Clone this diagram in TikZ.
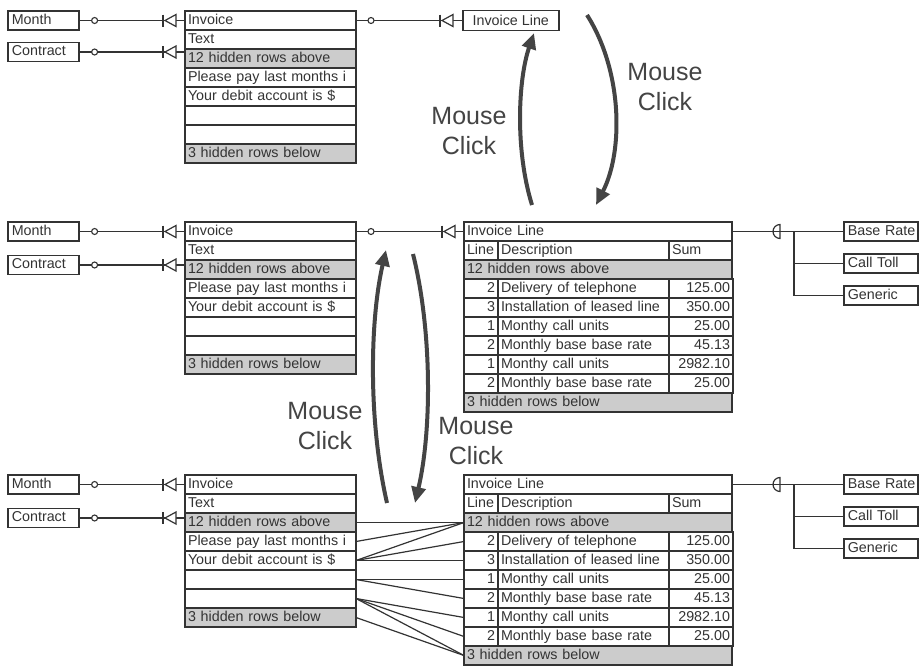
\documentclass[tikz,border=0pt]{standalone}
\usepackage{fontspec}
\setmainfont{Liberation Sans}
\usetikzlibrary{calc,arrows.meta}
\definecolor{ink}{HTML}{333333}
\definecolor{shade}{HTML}{CCCCCC}
\definecolor{arr}{HTML}{444444}
\newcommand\tabf{\fontsize{14.3}{16}\selectfont}
\newcommand\mousef{\fontsize{25}{30}\selectfont}
\tikzset{
 row/.style={draw=ink, line width=1.5pt, minimum height=19pt, inner xsep=3pt, inner ysep=0pt, outer sep=0pt, anchor=north west, text height=10pt, text depth=3pt, font=\tabf, text=ink},
 lrow/.style={row, text width=#1pt, align=left},
 rrow/.style={row, text width=#1pt, align=right},
 hid/.style={fill=shade},
 ent/.style={draw=ink, line width=1.6pt, anchor=west, minimum height=19pt, inner xsep=4pt, inner ysep=0pt, text width=#1pt, align=left, text height=10pt, text depth=3pt, font=\tabf, text=ink},
 conn/.style={draw=ink, line width=1.2pt},
 dot/.style={circle, draw=ink, line width=1.1pt, fill=white, inner sep=0pt, minimum size=6pt},
 bigarrow/.style={draw=arr, line width=4pt, -{Triangle[length=16pt,width=14pt]}},
 mouse/.style={font=\mousef, text=arr, align=center},
}
\newcommand\onecirc[1]{\node[dot] at ($(#1)+(15,0)$) {};}
\newcommand\manyend[1]{%
 \draw[conn] ($(#1)+(-22,-6)$) -- ($(#1)+(-22,6)$);
 \draw[conn,fill=white] ($(#1)+(-20,0)$) -- ($(#1)+(-9,-6)$) -- ($(#1)+(-9,6)$) -- cycle;}
\newcommand\invtab[2]{%
 \node[lrow=165] (#1a) at (185,#2) {Invoice};
 \node[lrow=165] (#1b) at (#1a.south west) {Text};
 \node[lrow=165,hid] (#1c) at (#1b.south west) {12 hidden rows above};
 \node[lrow=165] (#1d) at (#1c.south west) {Please pay last months i};
 \node[lrow=165] (#1e) at (#1d.south west) {Your debit account is \$};
 \node[lrow=165] (#1f) at (#1e.south west) {};
 \node[lrow=165] (#1g) at (#1f.south west) {};
 \node[lrow=165,hid] (#1h) at (#1g.south west) {3 hidden rows below};}
\newcommand\drow[6]{%
 \node[rrow=28] (#1#2) at (#3.south west) {#4};
 \node[lrow=165] (#1#2d) at (#1#2.north east) {#5};
 \node[rrow=58] (#1#2s) at (#1#2d.north east) {#6};}
\newcommand\linetab[2]{%
 \node[lrow=262] (#1a) at (464,#2) {Invoice Line};
 \node[lrow=28] (#1k) at (#1a.south west) {Line};
 \node[lrow=165] (#1kd) at (#1k.north east) {Description};
 \node[lrow=57] (#1ks) at (#1kd.north east) {Sum};
 \node[lrow=262,hid] (#1c) at (#1k.south west) {12 hidden rows above};
 \drow{#1}{d}{#1c}{2}{Delivery of telephone}{125.00}
 \drow{#1}{e}{#1d}{3}{Installation of leased line}{350.00}
 \drow{#1}{f}{#1e}{1}{Monthy call units}{25.00}
 \drow{#1}{g}{#1f}{2}{Monthly base base rate}{45.13}
 \drow{#1}{i}{#1g}{1}{Monthy call units}{2982.10}
 \drow{#1}{j}{#1i}{2}{Monthly base base rate}{25.00}
 \node[lrow=262,hid] (#1z) at (#1j.south west) {3 hidden rows below};}
\newcommand\leftgrp[4]{%
 \invtab{#1}{#2}
 \node[ent=63] (#1mo) at (7,#3) {Month};
 \node[ent=63] (#1co) at (7,#4) {Contract};
 \coordinate (#1moE) at (#1mo.east -| #1a.west);
 \coordinate (#1coE) at (#1co.east -| #1a.west);
 \draw[conn] (#1mo) -- (#1moE);
 \draw[conn] (#1co) -- (#1coE);
 \onecirc{#1mo.east}
 \onecirc{#1co.east}
 \manyend{#1moE}
 \manyend{#1coE}}
\newcommand\rightgrp[1]{%
 \node[ent=66] (#1br) at ($(#1a.east)+(111,0)$) {Base~Rate};
 \node[ent=66] (#1ct) at ($(#1br.west)+(0,32)$) {Call~Toll};
 \node[ent=66] (#1ge) at ($(#1br.west)+(0,64)$) {Generic};
 \draw[conn] (#1a) -- (#1br);
 \coordinate (#1junc) at ($(#1a.east)+(62,0)$);
 \draw[conn] (#1junc) |- (#1ct);
 \draw[conn] (#1junc) |- (#1ge);
 \coordinate (#1sym) at ($(#1a.east)+(40,0)$);
 \draw[conn] ($(#1sym)+(8,7)$) arc[start angle=90,end angle=270,x radius=7,y radius=7] -- cycle;}
\begin{document}
\begin{tikzpicture}[x=1pt,y=-1pt]
\useasboundingbox[fill=white] (0,0) rectangle (922,667);
% top
\leftgrp{T}{11}{20.5}{52}
\node[draw=ink, line width=1.6pt, minimum width=96pt, minimum height=20pt, inner sep=0pt, anchor=west, font=\tabf, text=ink] (Til) at (462,20.5) {Invoice Line};
\draw[conn] (Ta) -- (Til);
\onecirc{Ta.east}
\manyend{Til.west}
% middle
\leftgrp{M}{222}{231.5}{265}
\linetab{ML}{222}
\draw[conn] (Ma) -- (MLa);
\onecirc{Ma.east}
\manyend{MLa.west}
\rightgrp{ML}
% bottom
\leftgrp{B}{475}{484.5}{518}
\linetab{BL}{475}
\rightgrp{BL}
\foreach \s/\t in {c/c, d/c, e/c, e/d, e/e, f/f, f/g, g/i, g/j, g/z, h/z}
 {\draw[conn] (B\s.east) -- (BL\t.west);}
% mouse click arrows
\coordinate (a1s) at (532,205); \coordinate (a1e) at (534,33);
\draw[bigarrow] (a1s) .. controls (515,150) and (518,80) .. (a1e);
\coordinate (a2s) at (587,15); \coordinate (a2e) at (596,205);
\draw[bigarrow] (a2s) .. controls (622,70) and (624,150) .. (a2e);
\coordinate (a3s) at (387,503); \coordinate (a3e) at (386,250);
\draw[bigarrow] (a3s) .. controls (368,420) and (370,320) .. (a3e);
\coordinate (a4s) at (413,254); \coordinate (a4e) at (415,503);
\draw[bigarrow] (a4s) .. controls (432,330) and (432,430) .. (a4e);
\node[mouse] (m1) at (469,131) {Mouse\\Click};
\node[mouse] (m2) at (665,87) {Mouse\\Click};
\node[mouse] (m3) at (325,426) {Mouse\\Click};
\node[mouse] (m4) at (476,441) {Mouse\\Click};
\end{tikzpicture}
\end{document}
